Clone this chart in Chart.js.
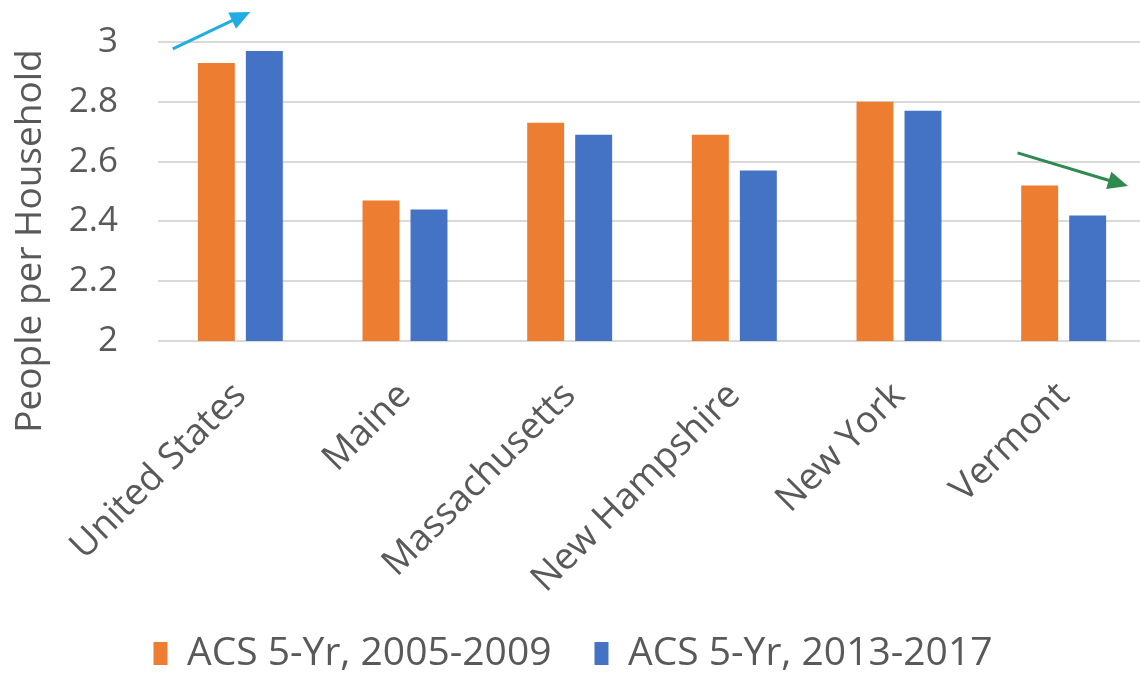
<!DOCTYPE html>
<html>
<head>
<meta charset="utf-8">
<script src="https://cdn.jsdelivr.net/npm/chart.js@4"></script>
<style>
  html, body { margin: 0; padding: 0; background: #fff; overflow: hidden; }
  #wrap { width: 1146px; height: 673px; }
</style>
</head>
<body>
<div id="wrap"><canvas id="myChart"></canvas></div>
<script>
// data
let states = ['United States', 'Maine', 'Massachusetts', 'New Hampshire', 'New York', 'Vermont'];
let acs2009 = [2.93, 2.47, 2.73, 2.69, 2.80, 2.52];
let acs2017 = [2.97, 2.44, 2.69, 2.57, 2.77, 2.42];
let seriesNames = ['ACS 5-Yr, 2005-2009', 'ACS 5-Yr, 2013-2017'];
let yTicks = [2, 2.2, 2.4, 2.6, 2.8, 3];
let yTitle = 'People per Household';

// trend arrows, given as [category index, value]
let arrows = [
    { from: [-0.41, 2.977], to: [0.06, 3.10], color: '#1FADE3' },
    { from: [4.72, 2.629], to: [5.39, 2.518], color: '#2F8A4F' }
];

const grey = '#595959';
const font = "'Open Sans', 'Noto Sans', sans-serif";

// draw axis title + arrows
const extras = {
    id: 'extras',
    afterDraw(chart) {
        let ctx = chart.ctx;
        let xs = chart.scales.x, ys = chart.scales.y;
        ctx.save();
        ctx.fillStyle = grey;
        ctx.font = '37px ' + font;
        ctx.textAlign = 'center';
        ctx.textBaseline = 'middle';
        ctx.translate(30, 241);
        ctx.rotate(-Math.PI / 2);
        ctx.fillText(yTitle, 0, 0);
        ctx.restore();

        arrows.forEach(a => {
            let x1 = xs.getPixelForValue(a.from[0]), y1 = ys.getPixelForValue(a.from[1]);
            let x2 = xs.getPixelForValue(a.to[0]), y2 = ys.getPixelForValue(a.to[1]);
            let ang = Math.atan2(y2 - y1, x2 - x1);
            let head = 20, half = 9;
            ctx.save();
            ctx.strokeStyle = a.color;
            ctx.fillStyle = a.color;
            ctx.lineWidth = 3;
            ctx.beginPath();
            ctx.moveTo(x1, y1);
            ctx.lineTo(x2 - Math.cos(ang) * head * 0.8, y2 - Math.sin(ang) * head * 0.8);
            ctx.stroke();
            ctx.translate(x2, y2);
            ctx.rotate(ang);
            ctx.beginPath();
            ctx.moveTo(0, 0);
            ctx.lineTo(-head, -half);
            ctx.lineTo(-head, half);
            ctx.closePath();
            ctx.fill();
            ctx.restore();
        });
    }
};

var ctx = document.getElementById('myChart').getContext('2d');
var chart = new Chart(ctx, {
    type: 'bar',
    data: {
        labels: states,
        datasets: [{
            label: seriesNames[0],
            backgroundColor: '#ED7D31',
            data: acs2009
        },
        {
            label: seriesNames[1],
            backgroundColor: '#4472C4',
            data: acs2017
        }]
    },
    options: {
        responsive: true,
        maintainAspectRatio: false,
        animation: false,
        categoryPercentage: 0.583,
        barPercentage: 0.77,
        layout: { padding: { top: 42, right: 0, left: 0, bottom: -10 } },
        plugins: {
            tooltip: { enabled: false },
            legend: {
                position: 'bottom',
                labels: {
                    color: grey,
                    font: { family: font, size: 39 },
                    boxWidth: 14,
                    boxHeight: 23,
                    padding: 43
                }
            }
        },
        scales: {
            x: {
                grid: { display: false, drawTicks: false },
                border: { display: false },
                ticks: {
                    color: grey,
                    font: { family: font, size: 37 },
                    minRotation: 45,
                    maxRotation: 45,
                    autoSkip: false,
                    padding: 33
                },
                afterFit(scale) { scale.height = 250; }
            },
            y: {
                min: 2,
                max: 3,
                afterBuildTicks(scale) { scale.ticks = yTicks.map(v => ({ value: v })); },
                grid: { color: '#D9D9D9', lineWidth: 2, drawTicks: false },
                border: { display: false },
                ticks: {
                    color: grey,
                    font: { family: font, size: 35 },
                    padding: 40,
                    callback: v => String(+v.toFixed(1))
                },
                afterFit(scale) {
                    scale.width = 158;
                    scale.paddingTop = 0;
                    scale.paddingBottom = 0;
                }
            }
        }
    },
    plugins: [extras]
});
</script>
</body>
</html>
